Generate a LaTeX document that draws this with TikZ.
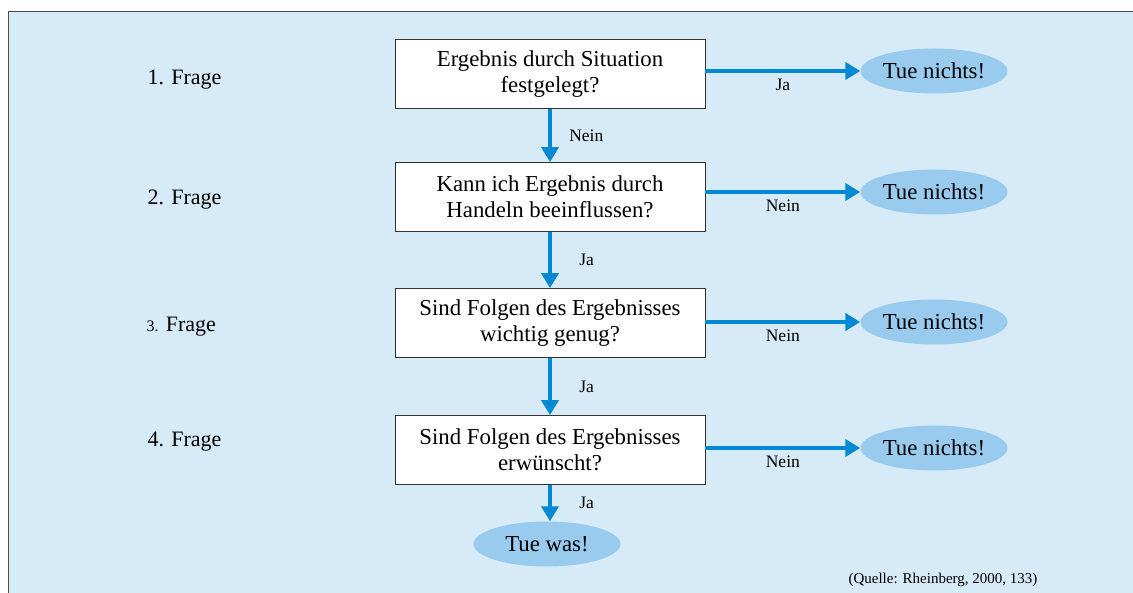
\documentclass[tikz,border=0pt]{standalone}
\usepackage{fontspec}
\setmainfont{Liberation Serif}
\usetikzlibrary{arrows.meta,shapes.geometric}
\definecolor{panelblue}{RGB}{215,234,248}
\definecolor{ovalblue}{RGB}{152,203,238}
\definecolor{arrowblue}{RGB}{0,136,210}
\begin{document}
\begin{tikzpicture}[x=1pt, y=-1pt,
  question/.style={draw=black!80, fill=white, line width=0.8pt, align=center, minimum width=310pt, minimum height=69pt, inner sep=0pt, font=\fontsize{22.8}{26}\selectfont},
  outcome/.style={ellipse, fill=ovalblue, minimum width=147pt, minimum height=45pt, inner sep=0pt, font=\fontsize{22.8}{26}\selectfont},
  level/.style={anchor=west, font=\fontsize{22}{26}\selectfont},
  answer/.style={font=\fontsize{17.5}{20}\selectfont},
  arrow/.style={-{Triangle[length=15pt,width=17pt]}, line width=4pt, arrowblue}
]
\useasboundingbox[fill=white] (0,0) rectangle (1133,593);
\draw[fill=panelblue, draw=black!70, line width=0.8pt] (8,11) rectangle (1145,605);

\node[question] (q1) at (550,74) {Ergebnis durch Situation\\festgelegt?};
\node[question] (q2) at (550,197) {Kann ich Ergebnis durch\\Handeln beeinflussen?};
\node[question] (q3) at (550,323) {Sind Folgen des Ergebnisses\\wichtig genug?};
\node[question] (q4) at (550,450) {Sind Folgen des Ergebnisses\\erwünscht?};

\node[outcome] (e1) at (934,71) {Tue nichts!};
\node[outcome] (e2) at (934,192) {Tue nichts!};
\node[outcome] (e3) at (934,322) {Tue nichts!};
\node[outcome] (e4) at (934,448) {Tue nichts!};
\node[outcome] (act) at (547,544) {Tue was!};

\node[level] (l1) at (144,80) {1. Frage};
\node[level] (l2) at (144,200) {2. Frage};
\node[level] (l3) at (143,327) {{\fontsize{16}{18}\selectfont 3.} Frage};
\node[level] (l4) at (144,442) {4. Frage};

\draw[arrow] (q1.east |- e1) -- (e1.west) node[answer, midway, below=3pt, black] {Ja};
\draw[arrow] (q2.east |- e2) -- (e2.west) node[answer, midway, below=3pt, black] {Nein};
\draw[arrow] (q3.east |- e3) -- (e3.west) node[answer, midway, below=3pt, black] {Nein};
\draw[arrow] (q4.east |- e4) -- (e4.west) node[answer, midway, below=3pt, black] {Nein};

\draw[arrow] (q1) -- (q2) node[answer, midway, right=14pt, black] {Nein};
\draw[arrow] (q2) -- (q3) node[answer, midway, right=24pt, black] {Ja};
\draw[arrow] (q3) -- (q4) node[answer, midway, right=24pt, black] {Ja};
\draw[arrow] (q4.south) -- (act.north -| q4.south) node[answer, midway, right=24pt, black] {Ja};

\node[font=\fontsize{15}{18}\selectfont] (src) at (943,580) {(Quelle: Rheinberg, 2000, 133)};
\end{tikzpicture}
\end{document}
